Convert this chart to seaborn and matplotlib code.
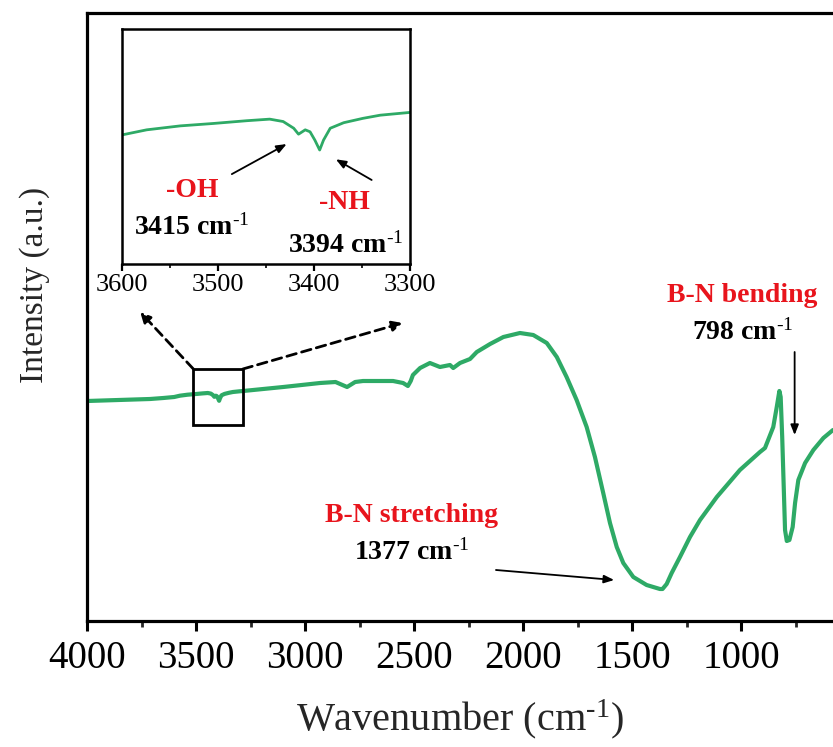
import matplotlib
matplotlib.use("Agg")
import matplotlib.pyplot as plt
import seaborn as sns
import pandas as pd
from matplotlib.ticker import MultipleLocator
from matplotlib.patches import Rectangle

# ---- data ----
wavenumber = [4000, 3711, 3650, 3600, 3574, 3539, 3505, 3470, 3446, 3432, 3421, 3416,
              3409, 3404, 3399, 3394, 3390, 3383, 3369, 3349, 3331, 3300, 3284, 3100,
              2931, 2860, 2807, 2770, 2734, 2596, 2550, 2528, 2515, 2505, 2472, 2427,
              2381, 2335, 2320, 2289, 2243, 2212, 2151, 2090, 2014, 1953, 1891, 1845,
              1800, 1754, 1708, 1670, 1632, 1601, 1570, 1540, 1494, 1433, 1372, 1360,
              1341, 1318, 1280, 1234, 1188, 1111, 1005, 913, 890, 852, 836, 824,
              818, 811, 804, 798, 790, 778, 763, 752, 737, 706, 668, 622, 578]
intensity = [216, 218, 219, 220.0, 221.3, 222.3, 222.9, 223.6, 224.0, 223.4, 221.7, 220.2,
             221.3, 220.8, 218.7, 216.2, 218.7, 221.7, 223.1, 224.2, 225.0, 225.7, 226, 230,
             234, 235, 230, 235, 236, 236, 234, 231, 236, 242, 249, 254,
             250, 252, 249, 254, 258, 265, 273, 280, 284, 282, 274, 260,
             240, 217, 190, 160, 124, 94, 70, 54, 40, 32, 28, 28,
             33, 44, 60, 80, 97, 120, 147, 165, 169, 190, 210, 226,
             220, 180, 130, 87, 76, 77, 90, 114, 137, 154, 167, 179, 187]

main_ticks = [4000, 3500, 3000, 2500, 2000, 1500, 1000]
inset_ticks = [3600, 3500, 3400, 3300]

df = pd.DataFrame({"wn": wavenumber, "I": intensity})

GREEN = "#2eaa66"
RED = "#e8141c"

sns.set_theme(style="ticks")
plt.rcParams["font.family"] = ["Liberation Serif", "DejaVu Serif"]
plt.rcParams["mathtext.fontset"] = "custom"
plt.rcParams["mathtext.rm"] = "Liberation Serif"
plt.rcParams["mathtext.bf"] = "Liberation Serif:bold"
plt.rcParams["mathtext.default"] = "regular"

SUP = r"$^{\text{-1}}$"

fig = plt.figure(figsize=(8.33, 7.47), dpi=100)
ax = fig.add_axes([87/833, 1-621/747, (833-87)/833, (621-13)/747])

sns.lineplot(data=df, x="wn", y="I", ax=ax, color=GREEN, linewidth=3.0,
             sort=False, estimator=None)
ax.set_xlim(4000, 578)
ax.set_ylim(-4, 604)
ax.set_xticks(main_ticks)
ax.set_xticklabels([str(t) for t in main_ticks])
ax.xaxis.set_minor_locator(MultipleLocator(250))
ax.set_yticks([])
ax.spines["right"].set_visible(False)
for s in ["left", "top", "bottom"]:
    ax.spines[s].set_linewidth(2.3)
    ax.spines[s].set_color("black")
ax.tick_params(axis="x", which="major", direction="out", length=7, width=2.2,
               labelsize=28, pad=7, colors="black")
ax.tick_params(axis="x", which="minor", direction="out", length=4, width=2.0)
ax.set_xlabel("Wavenumber (cm" + SUP + ")", fontsize=29, labelpad=14)
ax.set_ylabel("Intensity (a.u.)", fontsize=24)
ax.yaxis.set_label_coords(-0.05, 0.553)
ax.grid(False)

# zoom box and dashed arrows
ax.add_patch(Rectangle((3512, 192), 3285-3512, 248-192, fill=False,
                       edgecolor="black", linewidth=2.0, zorder=5))
dash_kw = dict(arrowstyle="-|>,head_length=0.5,head_width=0.25", color="black",
               linestyle=(0, (3.5, 2)), linewidth=2.0, shrinkA=0, shrinkB=0)
ax.annotate("", xy=(3756, 305), xytext=(3512, 248), arrowprops=dash_kw)
ax.annotate("", xy=(2553, 294), xytext=(3285, 248), arrowprops=dash_kw)

# annotations in main axes
arr_kw = dict(arrowstyle="-|>,head_length=0.5,head_width=0.2", color="black",
              linewidth=1.3, shrinkA=0, shrinkB=0)
ax.text(993, 322, "B-N bending", color=RED, fontsize=20, fontweight="bold",
        ha="center", va="center")
ax.text(993, 285, "798 cm" + SUP, color="black", fontsize=20, fontweight="bold",
        ha="center", va="center")
ax.annotate("", xy=(754, 182), xytext=(754, 265), arrowprops=arr_kw)
ax.text(2510, 102, "B-N stretching", color=RED, fontsize=20, fontweight="bold",
        ha="center", va="center")
ax.text(2510, 65, "1377 cm" + SUP, color="black", fontsize=20, fontweight="bold",
        ha="center", va="center")
ax.annotate("", xy=(1582, 37), xytext=(2124, 47), arrowprops=arr_kw)

# inset
axin = fig.add_axes([121.7/833, 1-264/747, 288.3/833, (264-29.3)/747])
sns.lineplot(data=df, x="wn", y="I", ax=axin, color=GREEN, linewidth=2.0,
             sort=False, estimator=None)
axin.set_xlim(3600, 3300)
axin.set_ylim(187.4, 246.7)
axin.set_xticks(inset_ticks)
axin.set_xticklabels([str(t) for t in inset_ticks])
axin.xaxis.set_minor_locator(MultipleLocator(50))
axin.set_yticks([])
axin.set_xlabel("")
axin.set_ylabel("")
for s in axin.spines.values():
    s.set_linewidth(1.8)
    s.set_color("black")
axin.tick_params(axis="x", which="major", direction="out", length=5, width=1.6,
                 labelsize=19, pad=2, colors="black")
axin.tick_params(axis="x", which="minor", direction="out", length=3, width=1.4)
axin.grid(False)

axin.text(0.244, 0.315, "-OH", transform=axin.transAxes, color=RED, fontsize=20,
          fontweight="bold", ha="center", va="center")
axin.text(0.244, 0.158, "3415 cm" + SUP, transform=axin.transAxes, color="black",
          fontsize=20, fontweight="bold", ha="center", va="center")
axin.text(0.774, 0.26, "-NH", transform=axin.transAxes, color=RED, fontsize=20,
          fontweight="bold", ha="center", va="center")
axin.text(0.777, 0.081, "3394 cm" + SUP, transform=axin.transAxes, color="black",
          fontsize=20, fontweight="bold", ha="center", va="center")
axin.annotate("", xy=(0.572, 0.511), xytext=(0.382, 0.383), xycoords="axes fraction",
              textcoords="axes fraction", arrowprops=arr_kw)
axin.annotate("", xy=(0.743, 0.446), xytext=(0.867, 0.358), xycoords="axes fraction",
              textcoords="axes fraction", arrowprops=arr_kw)

fig.savefig("out.png", dpi=100)
